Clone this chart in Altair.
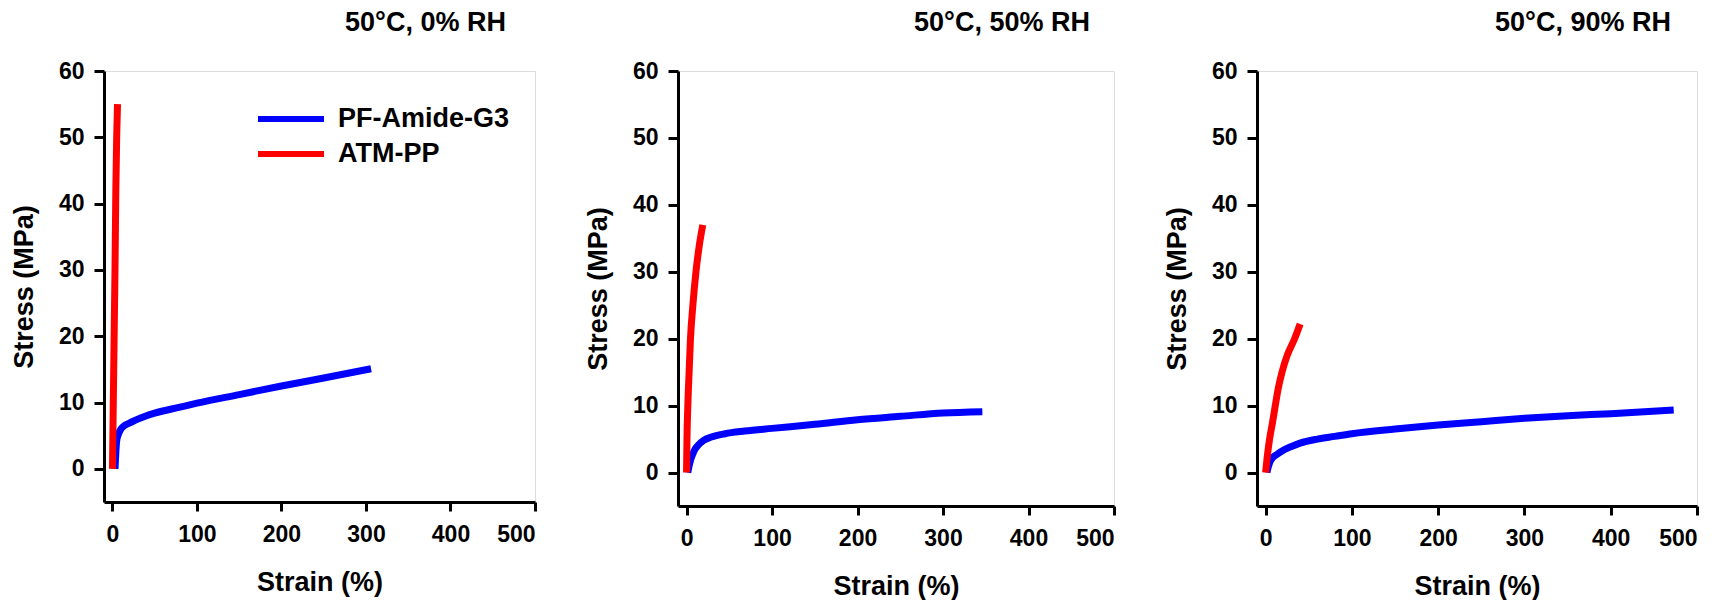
import altair as alt
import pandas as pd

FONT = "Liberation Sans"

panel_titles = ["50°C, 0% RH", "50°C, 50% RH", "50°C, 90% RH"]
series_names = ["PF-Amide-G3", "ATM-PP"]
series_colors = ["#0000FF", "#FF0000"]

x_ticks = [0, 100, 200, 300, 400, 500]
y_ticks = [0, 10, 20, 30, 40, 50, 60]

# Panel 1: 50°C, 0% RH
p1_blue_strain = [3, 4, 5, 7, 10, 15, 20, 30, 50, 80, 100, 150, 200, 250, 306]
p1_blue_stress = [0, 2.5, 4.2, 5.2, 6.0, 6.6, 6.9, 7.5, 8.4, 9.3, 9.9, 11.2, 12.5, 13.7, 15.1]
p1_red_strain = [0, 1, 2, 3, 4, 5, 6]
p1_red_stress = [0, 10, 20, 30, 42, 50, 55]

# Panel 2: 50°C, 50% RH
p2_blue_strain = [1.5, 3, 5, 7.4, 10, 13, 20, 29, 45, 68, 100, 150, 200, 250, 300, 346]
p2_blue_stress = [0, 1.0, 2.0, 2.8, 3.5, 4.0, 4.8, 5.3, 5.8, 6.2, 6.6, 7.2, 7.9, 8.4, 8.9, 9.1]
p2_red_strain = [0, 0.5, 1.5, 3, 4.6, 7.4, 11, 15, 19]
p2_red_stress = [0, 5, 10, 15, 20, 25, 30, 34, 37]

# Panel 3: 50°C, 90% RH
p3_blue_strain = [1.5, 3, 5, 8, 13, 20, 30, 40, 60, 80, 100, 150, 200, 250, 300, 350, 400, 473]
p3_blue_stress = [0, 0.8, 1.6, 2.2, 2.7, 3.3, 3.9, 4.4, 5.0, 5.4, 5.8, 6.5, 7.1, 7.6, 8.1, 8.5, 8.8, 9.35]
p3_red_strain = [0, 2, 4.6, 8, 11.2, 14.5, 19, 25, 33.6, 40]
p3_red_stress = [0, 2.5, 5, 7.5, 10, 12.5, 15, 17.5, 20, 22.2]

panels = [
    (p1_blue_strain, p1_blue_stress, p1_red_strain, p1_red_stress),
    (p2_blue_strain, p2_blue_stress, p2_red_strain, p2_red_stress),
    (p3_blue_strain, p3_blue_stress, p3_red_strain, p3_red_stress),
]
widths = [431, 436, 440]
heights = [431, 435, 435]


def make_df(bx, by, rx, ry):
    rows = []
    for i, (x, y) in enumerate(zip(bx, by)):
        rows.append({"strain": x, "stress": y, "sample": series_names[0], "idx": i})
    for i, (x, y) in enumerate(zip(rx, ry)):
        rows.append({"strain": x, "stress": y, "sample": series_names[1], "idx": i})
    return pd.DataFrame(rows)


charts = []
for k, (bx, by, rx, ry) in enumerate(panels):
    df = make_df(bx, by, rx, ry)
    if k == 0:
        legend = alt.Legend(
            title=None,
            orient="none",
            legendX=173,
            legendY=34,
            symbolType="M-3,0H3",
            symbolSize=484,
            symbolStrokeWidth=6,
            labelFont=FONT,
            labelFontSize=27,
            labelFontWeight="bold",
            labelColor="black",
            labelOffset=33,
            labelLimit=0,
            rowPadding=8,
        )
    else:
        legend = None
    c = (
        alt.Chart(df)
        .mark_line(strokeWidth=7, interpolate="monotone")
        .encode(
            x=alt.X(
                "strain:Q",
                scale=alt.Scale(domain=[-10, 500], nice=False, zero=False),
                axis=alt.Axis(
                    values=x_ticks,
                    title="Strain (%)",
                    grid=False,
                    tickSize=9,
                    tickWidth=3,
                    tickColor="black",
                    domainColor="black",
                    domainWidth=3,
                    labelFont=FONT,
                    labelFontSize=23,
                    labelFontWeight="bold",
                    labelColor="black",
                    labelPadding=12,
                    titleFont=FONT,
                    titleFontSize=27,
                    titleFontWeight="bold",
                    titleColor="black",
                    titlePadding=23,
                ),
            ),
            y=alt.Y(
                "stress:Q",
                scale=alt.Scale(domain=[-5, 60], nice=False, zero=False),
                axis=alt.Axis(
                    values=y_ticks,
                    title="Stress (MPa)",
                    grid=False,
                    tickSize=10,
                    tickWidth=3,
                    tickColor="black",
                    domainColor="black",
                    domainWidth=3,
                    labelFont=FONT,
                    labelFontSize=23,
                    labelFontWeight="bold",
                    labelColor="black",
                    labelPadding=10,
                    titleFont=FONT,
                    titleFontSize=27,
                    titleFontWeight="bold",
                    titleColor="black",
                    titlePadding=20,
                ),
            ),
            color=alt.Color(
                "sample:N",
                scale=alt.Scale(domain=series_names, range=series_colors),
                legend=legend,
            ),
            order=alt.Order("idx:Q"),
        )
        .properties(
            width=widths[k],
            height=heights[k],
            title=alt.TitleParams(
                text=panel_titles[k],
                font=FONT,
                fontSize=27,
                fontWeight="bold",
                color="black",
                anchor="middle",
                frame="group",
                dx=106,
                offset=23,
            ),
        )
    )
    charts.append(c)

chart = (
    alt.hconcat(*charts, spacing=46)
    .resolve_scale(color="shared")
    .resolve_legend(color="independent")
    .properties(padding={"left": 1, "top": 0, "right": 0, "bottom": 0})
    .configure_view(stroke="black", strokeWidth=3)
    .configure(background="white")
)

chart.save("out.html", embed_options={"renderer": "svg", "actions": False})
